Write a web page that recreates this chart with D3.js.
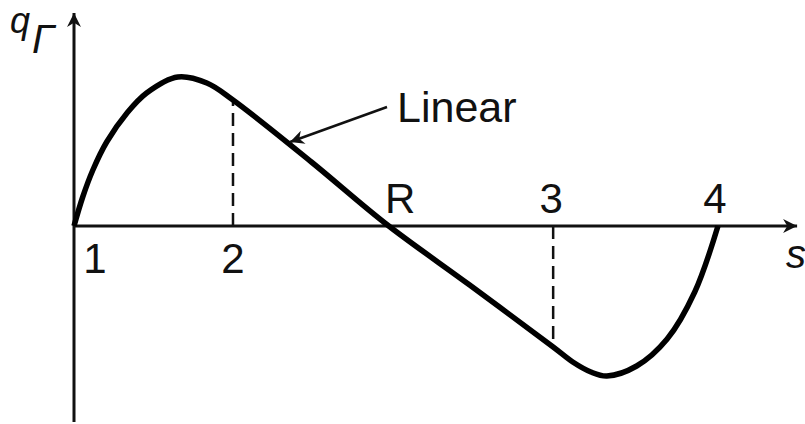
<!DOCTYPE html>
<html>
<head>
<meta charset="utf-8">
<script src="https://cdn.jsdelivr.net/npm/d3@7"></script>
<style>
  body { margin: 0; background: #fff; }
  svg text { font-family: "Liberation Sans", Arial, sans-serif; fill: #111; }
</style>
</head>
<body>
<div id="graphic"></div>
<script>
// curve q_Gamma(s)
var sVals = [0, 0.12, 0.26, 0.45, 0.73, 1.0, 1.43, 1.83, 2.19, 3.27, 4.3, 5.45, 6.6, 6.87, 7.12, 7.34, 7.75, 8.17, 8.55, 8.87];
var qVals = [0, 1.45, 2.8, 4.2, 5.65, 6.65, 7.45, 7.15, 6.3, 3.2, 0.1, -2.95, -6.05, -6.8, -7.3, -7.5, -7.0, -5.65, -3.3, 0];

var tickNames = ["1", "2", "R", "3", "4"];
var tickPos = [0, 2.19, 4.3, 6.6, 8.87];

// dashed drop lines at points 2 and 3
var dashS = [2.19, 6.6];
var dashQ = [6.3, -6.05];

var width = 805, height = 424;

var x = d3.scaleLinear().domain([0, 10]).range([74, 800]);
var y = d3.scaleLinear().domain([-10, 10]).range([426, 26]);

var svg = d3.select('#graphic')
  .append('svg')
  .attr("width", width)
  .attr("height", height);

var defs = svg.append("defs");
defs.append("marker")
  .attr("id", "arr")
  .attr("viewBox", "0 0 10 10")
  .attr("refX", 10).attr("refY", 5)
  .attr("markerWidth", 20).attr("markerHeight", 14)
  .attr("markerUnits", "userSpaceOnUse")
  .attr("orient", "auto")
  .append("path")
  .attr("d", "M0,0 L10,5 L0,10 L3,5 Z")
  .attr("fill", "#111");

// axes
svg.append("line")
  .attr("x1", x(0)).attr("x2", x(0))
  .attr("y1", y(-9.8)).attr("y2", y(10.65))
  .attr("stroke", "#111").attr("stroke-width", 3)
  .attr("marker-end", "url(#arr)");

svg.append("line")
  .attr("x1", x(0)).attr("x2", x(9.96))
  .attr("y1", y(0)).attr("y2", y(0))
  .attr("stroke", "#111").attr("stroke-width", 3)
  .attr("marker-end", "url(#arr)");

// dashed lines
svg.selectAll("line.dash")
  .data(dashS)
  .enter().append("line")
  .attr("class", "dash")
  .attr("x1", function(d) { return x(d); })
  .attr("x2", function(d) { return x(d); })
  .attr("y1", y(0))
  .attr("y2", function(d, i) { return y(dashQ[i]); })
  .attr("stroke", "#111").attr("stroke-width", 2.5)
  .attr("stroke-dasharray", "13,7");

// the curve
var pts = sVals.map(function(s, i) { return [s, qVals[i]]; });
var line = d3.line()
  .x(function(d) { return x(d[0]); })
  .y(function(d) { return y(d[1]); })
  .curve(d3.curveCatmullRom.alpha(0.5));

svg.append("path")
  .datum(pts)
  .attr("d", line)
  .attr("fill", "none")
  .attr("stroke", "#000")
  .attr("stroke-width", 5.5)
  .attr("stroke-linejoin", "round");

// point labels
var below = [true, true, false, false, false];
var dxs = [21, 0, 14, -2, -3];
svg.selectAll("text.tick")
  .data(tickNames)
  .enter().append("text")
  .attr("class", "tick")
  .attr("x", function(d, i) { return x(tickPos[i]) + dxs[i]; })
  .attr("y", function(d, i) { return below[i] ? 273 : 213; })
  .attr("text-anchor", "middle")
  .attr("font-size", 42)
  .text(function(d) { return d; });

// annotation
svg.append("line")
  .attr("x1", 387).attr("y1", 107)
  .attr("x2", 290).attr("y2", 142)
  .attr("stroke", "#111").attr("stroke-width", 2.5)
  .attr("marker-end", "url(#arr)");

svg.append("text")
  .attr("x", 397).attr("y", 122)
  .attr("font-size", 43)
  .text("Linear");

// axis titles
svg.append("text")
  .attr("x", 10).attr("y", 33)
  .attr("font-family", "Liberation Serif, serif")
  .attr("font-style", "italic")
  .attr("font-size", 36)
  .text("q");

svg.append("text")
  .attr("x", 32).attr("y", 53)
  .attr("font-family", "Liberation Serif, serif")
  .attr("font-style", "italic")
  .attr("font-size", 40)
  .text("Γ");

svg.append("text")
  .attr("x", 786).attr("y", 268)
  .attr("font-style", "italic")
  .attr("font-size", 40)
  .text("s");
</script>
</body>
</html>
